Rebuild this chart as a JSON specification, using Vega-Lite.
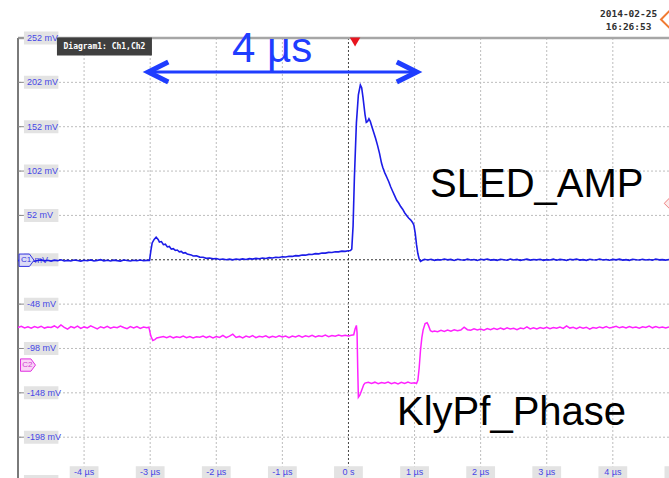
{
  "$schema": "https://vega.github.io/schema/vega-lite/v6.json",
  "width": 651,
  "height": 440,
  "autosize": "none",
  "padding": {"left": 18, "top": 38, "right": 0, "bottom": 0},
  "background": "white",
  "config": {"view": {"stroke": null}, "axis": {"disable": true}, "text": {"font": "Liberation Sans"}},
  "datasets": {
    "blue": [
      {"t":-5,"v":1.3},{"t":-4.95,"v":0.6},{"t":-4.9,"v":1.8},{"t":-4.85,"v":0.9},{"t":-4.8,"v":1.5},{"t":-4.75,"v":0.4},{"t":-4.7,"v":1.2},{"t":-4.65,"v":1.9},{"t":-4.6,"v":0.8},{"t":-4.55,"v":1.4},{"t":-4.5,"v":0.5},{"t":-4.45,"v":1.6},{"t":-4.4,"v":1.0},{"t":-4.35,"v":2.0},{"t":-4.3,"v":0.7},{"t":-4.25,"v":1.3},{"t":-4.2,"v":0.6},{"t":-4.15,"v":1.7},{"t":-4.1,"v":1.1},{"t":-4.05,"v":0.5},{"t":-4,"v":1.5},{"t":-3.95,"v":0.9},{"t":-3.9,"v":1.8},{"t":-3.85,"v":0.6},{"t":-3.8,"v":1.3},{"t":-3.75,"v":2.1},{"t":-3.7,"v":0.8},{"t":-3.65,"v":1.4},{"t":-3.6,"v":0.7},{"t":-3.55,"v":1.6},{"t":-3.5,"v":1.0},{"t":-3.45,"v":0.5},{"t":-3.4,"v":1.7},{"t":-3.35,"v":1.2},{"t":-3.3,"v":0.6},{"t":-3.25,"v":1.5},{"t":-3.2,"v":0.9},{"t":-3.15,"v":1.8},{"t":-3.1,"v":1.0},{"t":-3.05,"v":1.3},{"t":-3.01,"v":1.2},
      {"t":-2.99,"v":12},{"t":-2.97,"v":21},{"t":-2.94,"v":25},{"t":-2.91,"v":27.5},{"t":-2.88,"v":25},{"t":-2.86,"v":22},{"t":-2.83,"v":22.5},{"t":-2.8,"v":19},{"t":-2.77,"v":19.5},{"t":-2.74,"v":16.5},{"t":-2.71,"v":17},{"t":-2.68,"v":14},{"t":-2.65,"v":14.5},{"t":-2.62,"v":12.5},{"t":-2.59,"v":13},{"t":-2.56,"v":11},{"t":-2.53,"v":11.5},{"t":-2.5,"v":9.5},{"t":-2.47,"v":10},{"t":-2.44,"v":8.5},{"t":-2.41,"v":8},{"t":-2.38,"v":7.5},{"t":-2.35,"v":6.2},{"t":-2.3,"v":6.5},{"t":-2.25,"v":5.0},{"t":-2.2,"v":4.8},{"t":-2.15,"v":3.6},{"t":-2.1,"v":4.0},{"t":-2.05,"v":3.0},{"t":-2.0,"v":3.4},{"t":-1.95,"v":2.4},{"t":-1.9,"v":2.9},{"t":-1.85,"v":2.0},{"t":-1.8,"v":2.7},{"t":-1.75,"v":1.9},{"t":-1.7,"v":2.8},{"t":-1.65,"v":2.2},{"t":-1.6,"v":3.0},{"t":-1.55,"v":2.4},{"t":-1.5,"v":3.3},{"t":-1.45,"v":2.8},{"t":-1.4,"v":3.6},{"t":-1.35,"v":3.1},{"t":-1.3,"v":4.0},{"t":-1.25,"v":3.5},{"t":-1.2,"v":4.4},{"t":-1.15,"v":4.0},{"t":-1.1,"v":4.9},{"t":-1.05,"v":4.5},{"t":-1.0,"v":5.4},{"t":-0.95,"v":5.1},{"t":-0.9,"v":6.0},{"t":-0.85,"v":5.8},{"t":-0.8,"v":6.7},{"t":-0.75,"v":6.4},{"t":-0.7,"v":7.4},{"t":-0.65,"v":7.2},{"t":-0.6,"v":8.1},{"t":-0.55,"v":7.9},{"t":-0.5,"v":8.9},{"t":-0.45,"v":8.7},{"t":-0.4,"v":9.6},{"t":-0.35,"v":9.5},{"t":-0.3,"v":10.3},{"t":-0.25,"v":10.2},{"t":-0.2,"v":11.0},{"t":-0.15,"v":10.9},{"t":-0.1,"v":11.7},{"t":-0.05,"v":11.5},{"t":0,"v":12.2},{"t":0.03,"v":12.5},{"t":0.05,"v":14},
      {"t":0.07,"v":40},{"t":0.09,"v":95},{"t":0.12,"v":156},{"t":0.15,"v":188},{"t":0.18,"v":199},{"t":0.2,"v":196},{"t":0.22,"v":185},{"t":0.25,"v":166},{"t":0.27,"v":157},{"t":0.29,"v":158},{"t":0.31,"v":161},{"t":0.33,"v":158},{"t":0.35,"v":153},{"t":0.38,"v":146},{"t":0.41,"v":139},{"t":0.44,"v":131},{"t":0.47,"v":122},{"t":0.5,"v":111},{"t":0.52,"v":106},{"t":0.55,"v":100},{"t":0.58,"v":95},{"t":0.61,"v":90},{"t":0.64,"v":84},{"t":0.67,"v":79},{"t":0.7,"v":74},{"t":0.73,"v":69},{"t":0.76,"v":66},{"t":0.79,"v":62},{"t":0.82,"v":59},{"t":0.85,"v":55},{"t":0.88,"v":52},{"t":0.91,"v":49},{"t":0.94,"v":47},{"t":0.97,"v":44},{"t":0.99,"v":41},{"t":1.01,"v":32},{"t":1.03,"v":19},{"t":1.05,"v":9},{"t":1.07,"v":3},{"t":1.09,"v":0.2},{"t":1.12,"v":1.5},{"t":1.15,"v":2.6},
      {"t":1.2,"v":1.8},{"t":1.25,"v":2.5},{"t":1.3,"v":1.4},{"t":1.35,"v":2.2},{"t":1.4,"v":1.7},{"t":1.45,"v":2.8},{"t":1.5,"v":1.9},{"t":1.55,"v":2.4},{"t":1.6,"v":1.3},{"t":1.65,"v":2.6},{"t":1.7,"v":2.0},{"t":1.75,"v":1.5},{"t":1.8,"v":2.7},{"t":1.85,"v":1.8},{"t":1.9,"v":2.3},{"t":1.95,"v":1.2},{"t":2.0,"v":2.5},{"t":2.05,"v":1.9},{"t":2.1,"v":2.9},{"t":2.15,"v":1.6},{"t":2.2,"v":2.2},{"t":2.25,"v":1.4},{"t":2.3,"v":2.6},{"t":2.35,"v":2.0},{"t":2.4,"v":1.5},{"t":2.45,"v":2.8},{"t":2.5,"v":1.7},{"t":2.55,"v":2.4},{"t":2.6,"v":1.3},{"t":2.65,"v":2.1},{"t":2.7,"v":2.7},{"t":2.75,"v":1.6},{"t":2.8,"v":2.3},{"t":2.85,"v":1.9},{"t":2.9,"v":2.6},{"t":2.95,"v":1.4},{"t":3.0,"v":2.2},{"t":3.05,"v":1.8},{"t":3.1,"v":2.7},{"t":3.15,"v":1.5},{"t":3.2,"v":2.4},{"t":3.25,"v":2.0},{"t":3.3,"v":1.3},{"t":3.35,"v":2.5},{"t":3.4,"v":1.9},{"t":3.45,"v":2.8},{"t":3.5,"v":1.6},{"t":3.55,"v":2.2},{"t":3.6,"v":1.4},{"t":3.65,"v":2.6},{"t":3.7,"v":2.0},{"t":3.75,"v":1.7},{"t":3.8,"v":2.9},{"t":3.85,"v":1.8},{"t":3.9,"v":2.3},{"t":3.95,"v":1.5},{"t":4.0,"v":2.4},{"t":4.05,"v":1.9},{"t":4.1,"v":2.7},{"t":4.15,"v":1.6},{"t":4.2,"v":2.1},{"t":4.25,"v":1.4},{"t":4.3,"v":2.5},{"t":4.35,"v":2.0},{"t":4.4,"v":1.7},{"t":4.45,"v":2.6},{"t":4.5,"v":1.8},{"t":4.55,"v":2.3},{"t":4.6,"v":1.5},{"t":4.65,"v":2.8},{"t":4.7,"v":1.9},{"t":4.75,"v":2.2},{"t":4.8,"v":1.6},{"t":4.85,"v":2.4}
    ],
    "mag": [
      {"t":-5,"v":-74.3},{"t":-4.95,"v":-73.1},{"t":-4.9,"v":-74.9},{"t":-4.85,"v":-73.6},{"t":-4.8,"v":-75.2},{"t":-4.75,"v":-73.4},{"t":-4.7,"v":-74.6},{"t":-4.65,"v":-72.9},{"t":-4.6,"v":-75.0},{"t":-4.55,"v":-73.8},{"t":-4.5,"v":-74.4},{"t":-4.45,"v":-72.6},{"t":-4.4,"v":-74.8},{"t":-4.35,"v":-71.5},{"t":-4.3,"v":-74.1},{"t":-4.25,"v":-76.2},{"t":-4.2,"v":-73.3},{"t":-4.15,"v":-74.7},{"t":-4.1,"v":-72.8},{"t":-4.05,"v":-75.4},{"t":-4,"v":-73.7},{"t":-3.95,"v":-74.9},{"t":-3.9,"v":-72.4},{"t":-3.85,"v":-74.2},{"t":-3.8,"v":-76.0},{"t":-3.75,"v":-73.5},{"t":-3.7,"v":-74.8},{"t":-3.65,"v":-73.0},{"t":-3.6,"v":-75.1},{"t":-3.55,"v":-73.9},{"t":-3.5,"v":-74.5},{"t":-3.45,"v":-72.7},{"t":-3.4,"v":-74.3},{"t":-3.35,"v":-75.6},{"t":-3.3,"v":-73.4},{"t":-3.25,"v":-74.9},{"t":-3.2,"v":-73.2},{"t":-3.15,"v":-75.3},{"t":-3.1,"v":-73.8},{"t":-3.05,"v":-74.5},{"t":-3.02,"v":-74.0},
      {"t":-2.99,"v":-84},{"t":-2.96,"v":-89},{"t":-2.93,"v":-88},{"t":-2.9,"v":-86.2},{"t":-2.85,"v":-85.4},{"t":-2.8,"v":-84.6},{"t":-2.75,"v":-85.8},{"t":-2.7,"v":-84.2},{"t":-2.65,"v":-86.0},{"t":-2.6,"v":-84.9},{"t":-2.55,"v":-85.6},{"t":-2.5,"v":-84.0},{"t":-2.45,"v":-85.9},{"t":-2.4,"v":-84.5},{"t":-2.35,"v":-86.1},{"t":-2.3,"v":-84.8},{"t":-2.25,"v":-85.3},{"t":-2.2,"v":-83.9},{"t":-2.15,"v":-85.7},{"t":-2.1,"v":-84.3},{"t":-2.05,"v":-86.0},{"t":-2.0,"v":-84.6},{"t":-1.95,"v":-85.5},{"t":-1.9,"v":-83.2},{"t":-1.85,"v":-85.8},{"t":-1.8,"v":-84.1},{"t":-1.75,"v":-81.8},{"t":-1.7,"v":-85.6},{"t":-1.65,"v":-84.4},{"t":-1.6,"v":-86.2},{"t":-1.55,"v":-84.0},{"t":-1.5,"v":-85.3},{"t":-1.45,"v":-83.5},{"t":-1.4,"v":-85.9},{"t":-1.35,"v":-84.2},{"t":-1.3,"v":-85.0},{"t":-1.25,"v":-83.8},{"t":-1.2,"v":-85.7},{"t":-1.15,"v":-84.3},{"t":-1.1,"v":-85.4},{"t":-1.05,"v":-83.6},{"t":-1.0,"v":-85.1},{"t":-0.95,"v":-84.0},{"t":-0.9,"v":-85.8},{"t":-0.85,"v":-83.9},{"t":-0.8,"v":-84.9},{"t":-0.75,"v":-83.4},{"t":-0.7,"v":-85.2},{"t":-0.65,"v":-83.8},{"t":-0.6,"v":-84.7},{"t":-0.55,"v":-83.2},{"t":-0.5,"v":-84.9},{"t":-0.45,"v":-83.6},{"t":-0.4,"v":-84.4},{"t":-0.35,"v":-82.9},{"t":-0.3,"v":-84.6},{"t":-0.25,"v":-83.3},{"t":-0.2,"v":-84.2},{"t":-0.15,"v":-82.8},{"t":-0.1,"v":-84.0},{"t":-0.05,"v":-83.1},{"t":0,"v":-83.9},{"t":0.04,"v":-83.0},{"t":0.08,"v":-82.5},
      {"t":0.1,"v":-76},{"t":0.12,"v":-72},{"t":0.13,"v":-80},{"t":0.14,"v":-120},{"t":0.15,"v":-153},{"t":0.17,"v":-151},{"t":0.19,"v":-147},{"t":0.21,"v":-143},{"t":0.23,"v":-139},{"t":0.25,"v":-137},{"t":0.3,"v":-136.2},{"t":0.35,"v":-137.5},{"t":0.4,"v":-136.0},{"t":0.45,"v":-137.8},{"t":0.5,"v":-136.4},{"t":0.55,"v":-137.2},{"t":0.6,"v":-135.9},{"t":0.65,"v":-137.6},{"t":0.7,"v":-136.3},{"t":0.75,"v":-137.9},{"t":0.8,"v":-136.1},{"t":0.85,"v":-137.4},{"t":0.9,"v":-135.8},{"t":0.95,"v":-137.3},{"t":1.0,"v":-136.6},{"t":1.03,"v":-137.4},
      {"t":1.05,"v":-134},{"t":1.07,"v":-120},{"t":1.09,"v":-100},{"t":1.11,"v":-86},{"t":1.13,"v":-77},{"t":1.16,"v":-70},{"t":1.19,"v":-69},{"t":1.21,"v":-72},{"t":1.24,"v":-78},{"t":1.27,"v":-79},{"t":1.3,"v":-78.2},{"t":1.35,"v":-79.0},{"t":1.4,"v":-77.6},{"t":1.45,"v":-78.8},{"t":1.5,"v":-77.3},{"t":1.55,"v":-78.5},{"t":1.6,"v":-76.9},{"t":1.65,"v":-78.1},{"t":1.7,"v":-77.2},{"t":1.75,"v":-74.0},{"t":1.8,"v":-76.8},{"t":1.85,"v":-77.5},{"t":1.9,"v":-75.9},{"t":1.95,"v":-77.1},{"t":2.0,"v":-76.2},{"t":2.05,"v":-77.4},{"t":2.1,"v":-75.6},{"t":2.15,"v":-76.9},{"t":2.2,"v":-75.2},{"t":2.25,"v":-76.6},{"t":2.3,"v":-75.0},{"t":2.35,"v":-76.4},{"t":2.4,"v":-74.8},{"t":2.45,"v":-76.1},{"t":2.5,"v":-75.3},{"t":2.55,"v":-76.7},{"t":2.6,"v":-74.9},{"t":2.65,"v":-75.8},{"t":2.7,"v":-73.6},{"t":2.75,"v":-75.9},{"t":2.8,"v":-74.6},{"t":2.85,"v":-76.0},{"t":2.9,"v":-74.3},{"t":2.95,"v":-75.5},{"t":3.0,"v":-74.1},{"t":3.05,"v":-75.7},{"t":3.1,"v":-74.4},{"t":3.15,"v":-75.2},{"t":3.2,"v":-73.9},{"t":3.25,"v":-75.4},{"t":3.3,"v":-72.6},{"t":3.35,"v":-75.0},{"t":3.4,"v":-74.2},{"t":3.45,"v":-75.6},{"t":3.5,"v":-73.8},{"t":3.55,"v":-75.1},{"t":3.6,"v":-74.0},{"t":3.65,"v":-76.3},{"t":3.7,"v":-74.5},{"t":3.75,"v":-75.2},{"t":3.8,"v":-73.7},{"t":3.85,"v":-74.9},{"t":3.9,"v":-73.4},{"t":3.95,"v":-75.0},{"t":4.0,"v":-74.1},{"t":4.05,"v":-72.9},{"t":4.1,"v":-74.7},{"t":4.15,"v":-73.5},{"t":4.2,"v":-74.8},{"t":4.25,"v":-73.2},{"t":4.3,"v":-74.6},{"t":4.35,"v":-73.9},{"t":4.4,"v":-75.1},{"t":4.45,"v":-73.6},{"t":4.5,"v":-74.4},{"t":4.55,"v":-72.8},{"t":4.6,"v":-74.7},{"t":4.65,"v":-73.3},{"t":4.7,"v":-74.5},{"t":4.75,"v":-73.8},{"t":4.8,"v":-74.9},{"t":4.85,"v":-73.6}
    ],
    "xticks": [
      {"t":-4,"label":"-4 µs"},{"t":-3,"label":"-3 µs"},{"t":-2,"label":"-2 µs"},{"t":-1,"label":"-1 µs"},{"t":0,"label":"0 s"},{"t":1,"label":"1 µs"},{"t":2,"label":"2 µs"},{"t":3,"label":"3 µs"},{"t":4,"label":"4 µs"},{"t":5,"label":"5 µs"}
    ],
    "yticks": [
      {"v":252,"label":"252 mV"},{"v":202,"label":"202 mV"},{"v":152,"label":"152 mV"},{"v":102,"label":"102 mV"},{"v":52,"label":"52 mV"},{"v":2,"label":"2 mV"},{"v":-48,"label":"-48 mV"},{"v":-98,"label":"-98 mV"},{"v":-148,"label":"-148 mV"},{"v":-198,"label":"-198 mV"},{"v":-248,"label":"-248 mV"}
    ]
  },
  "layer": [
    {
      "data": {"name": "xticks"},
      "transform": [{"filter": "datum.t < 5"}],
      "mark": {"type": "rule", "strokeWidth": 1, "strokeDash": [2, 2]},
      "encoding": {
        "x": {"field": "t", "type": "quantitative", "scale": {"domain": [-5, 4.85], "nice": false, "zero": false}, "axis": null},
        "color": {"condition": {"test": "datum.t === 0", "value": "#444444"}, "value": "#bdbdbd"}
      }
    },
    {
      "data": {"name": "yticks"},
      "transform": [{"filter": "datum.v < 252 && datum.v > -244"}],
      "mark": {"type": "rule", "strokeWidth": 1, "strokeDash": [2, 2]},
      "encoding": {
        "y": {"field": "v", "type": "quantitative", "scale": {"domain": [-244, 252], "nice": false, "zero": false}, "axis": null},
        "color": {"condition": {"test": "datum.v === 2", "value": "#333333"}, "value": "#bdbdbd"}
      }
    },
    {
      "data": {"values": [{"v": 252}]},
      "mark": {"type": "rule", "strokeWidth": 2.5, "color": "#a6a6a6"},
      "encoding": {
        "y": {"field": "v", "type": "quantitative", "scale": {"domain": [-244, 252], "nice": false, "zero": false}, "axis": null}
      }
    },
    {
      "data": {"values": [{"t": -5}]},
      "mark": {"type": "rule", "strokeWidth": 2, "color": "#7a7a7a"},
      "encoding": {
        "x": {"field": "t", "type": "quantitative", "scale": {"domain": [-5, 4.85], "nice": false, "zero": false}, "axis": null}
      }
    },
    {
      "data": {"name": "yticks"},
      "mark": {"type": "point", "shape": "M0,-1H5.3V1H0Z", "filled": true, "color": "#e3e3e3", "opacity": 1, "size": 169, "strokeWidth": 0},
      "encoding": {
        "x": {"datum": -4.91, "type": "quantitative", "scale": {"domain": [-5, 4.85], "nice": false, "zero": false}, "axis": null},
        "y": {"field": "v", "type": "quantitative", "scale": {"domain": [-244, 252], "nice": false, "zero": false}, "axis": null},
        "yOffset": {"condition": [{"test": "datum.v === 252", "value": 6}, {"test": "datum.v === -248", "value": -6}], "value": 0}
      }
    },
    {
      "data": {"name": "yticks"},
      "mark": {"type": "rule", "strokeWidth": 1, "color": "#8a8a8a"},
      "encoding": {
        "x": {"datum": -5, "type": "quantitative", "scale": {"domain": [-5, 4.85], "nice": false, "zero": false}, "axis": null},
        "x2": {"datum": -4.915},
        "y": {"field": "v", "type": "quantitative", "scale": {"domain": [-244, 252], "nice": false, "zero": false}, "axis": null},
        "yOffset": {"condition": [{"test": "datum.v === 252", "value": 6}, {"test": "datum.v === -248", "value": -6}], "value": 0}
      }
    },
    {
      "data": {"name": "yticks"},
      "mark": {"type": "text", "align": "left", "baseline": "middle", "fontSize": 9, "color": "#4646e6"},
      "encoding": {
        "x": {"datum": -4.865, "type": "quantitative", "scale": {"domain": [-5, 4.85], "nice": false, "zero": false}, "axis": null},
        "y": {"field": "v", "type": "quantitative", "scale": {"domain": [-244, 252], "nice": false, "zero": false}, "axis": null},
        "yOffset": {"condition": [{"test": "datum.v === 252", "value": 6}, {"test": "datum.v === -248", "value": -6}], "value": 0},
        "text": {"field": "label"}
      }
    },
    {
      "data": {"name": "xticks"},
      "mark": {"type": "point", "shape": "M-2.4,-1H2.4V1H-2.4Z", "filled": true, "color": "#e3e3e3", "opacity": 1, "size": 144, "strokeWidth": 0},
      "encoding": {
        "x": {"field": "t", "type": "quantitative", "scale": {"domain": [-5, 4.85], "nice": false, "zero": false}, "axis": null},
        "y": {"datum": -237.5, "type": "quantitative", "scale": {"domain": [-244, 252], "nice": false, "zero": false}, "axis": null}
      }
    },
    {
      "data": {"name": "xticks"},
      "mark": {"type": "text", "align": "center", "baseline": "middle", "fontSize": 9, "color": "#4646e6"},
      "encoding": {
        "x": {"field": "t", "type": "quantitative", "scale": {"domain": [-5, 4.85], "nice": false, "zero": false}, "axis": null},
        "y": {"datum": -237.5, "type": "quantitative", "scale": {"domain": [-244, 252], "nice": false, "zero": false}, "axis": null},
        "text": {"field": "label"}
      }
    },
    {
      "data": {"name": "mag"},
      "mark": {"type": "line", "color": "#ff22ff", "strokeWidth": 1.5},
      "encoding": {
        "x": {"field": "t", "type": "quantitative", "scale": {"domain": [-5, 4.85], "nice": false, "zero": false}, "axis": null},
        "y": {"field": "v", "type": "quantitative", "scale": {"domain": [-244, 252], "nice": false, "zero": false}, "axis": null}
      }
    },
    {
      "data": {"name": "blue"},
      "mark": {"type": "line", "color": "#1c1ce8", "strokeWidth": 1.6},
      "encoding": {
        "x": {"field": "t", "type": "quantitative", "scale": {"domain": [-5, 4.85], "nice": false, "zero": false}, "axis": null},
        "y": {"field": "v", "type": "quantitative", "scale": {"domain": [-244, 252], "nice": false, "zero": false}, "axis": null}
      }
    },
    {
      "data": {"values": [{"t": -4.871, "v": 1.5, "label": "C1", "ch": "C1"}, {"t": -4.849, "v": -116.7, "label": "C2", "ch": "C2"}]},
      "mark": {"type": "point", "shape": "M-1.15,-0.95H0.45L1.15,0L0.45,0.95H-1.15Z", "filled": true, "opacity": 1, "size": 169, "strokeWidth": 1},
      "encoding": {
        "x": {"field": "t", "type": "quantitative", "scale": {"domain": [-5, 4.85], "nice": false, "zero": false}, "axis": null},
        "y": {"field": "v", "type": "quantitative", "scale": {"domain": [-244, 252], "nice": false, "zero": false}, "axis": null},
        "fill": {"field": "ch", "type": "nominal", "scale": {"domain": ["C1", "C2"], "range": ["#dcdcf6", "#fad4f6"]}, "legend": null},
        "stroke": {"field": "ch", "type": "nominal", "scale": {"domain": ["C1", "C2"], "range": ["#3434e0", "#e030e0"]}, "legend": null}
      }
    },
    {
      "data": {"values": [{"t": -4.877, "v": 1.5, "label": "C1", "ch": "C1"}, {"t": -4.857, "v": -116.7, "label": "C2", "ch": "C2"}]},
      "mark": {"type": "text", "align": "center", "baseline": "middle", "fontSize": 8},
      "encoding": {
        "x": {"field": "t", "type": "quantitative", "scale": {"domain": [-5, 4.85], "nice": false, "zero": false}, "axis": null},
        "y": {"field": "v", "type": "quantitative", "scale": {"domain": [-244, 252], "nice": false, "zero": false}, "axis": null},
        "text": {"field": "label"},
        "color": {"field": "ch", "type": "nominal", "scale": {"domain": ["C1", "C2"], "range": ["#3434e0", "#d040d0"]}, "legend": null}
      }
    },
    {
      "data": {"values": [{"t": -3.692, "v": 242.4}]},
      "mark": {"type": "point", "shape": "M-1,-0.19H1V0.19H-1Z", "filled": true, "color": "#3f3f3f", "opacity": 1, "size": 9025, "strokeWidth": 0},
      "encoding": {
        "x": {"field": "t", "type": "quantitative", "scale": {"domain": [-5, 4.85], "nice": false, "zero": false}, "axis": null},
        "y": {"field": "v", "type": "quantitative", "scale": {"domain": [-244, 252], "nice": false, "zero": false}, "axis": null}
      }
    },
    {
      "data": {"values": [{"t": -3.692, "v": 242.4, "label": "Diagram1: Ch1,Ch2"}]},
      "mark": {"type": "text", "align": "center", "baseline": "middle", "fontSize": 8, "font": "DejaVu Sans Mono", "fontWeight": "bold", "color": "#ffffff"},
      "encoding": {
        "x": {"field": "t", "type": "quantitative", "scale": {"domain": [-5, 4.85], "nice": false, "zero": false}, "axis": null},
        "y": {"field": "v", "type": "quantitative", "scale": {"domain": [-244, 252], "nice": false, "zero": false}, "axis": null},
        "text": {"field": "label"}
      }
    },
    {
      "data": {"values": [{"t": 0.1, "v": 247.5}]},
      "mark": {"type": "point", "shape": "triangle-down", "filled": true, "color": "#e8141e", "opacity": 1, "size": 110},
      "encoding": {
        "x": {"field": "t", "type": "quantitative", "scale": {"domain": [-5, 4.85], "nice": false, "zero": false}, "axis": null},
        "y": {"field": "v", "type": "quantitative", "scale": {"domain": [-244, 252], "nice": false, "zero": false}, "axis": null}
      }
    },
    {
      "data": {"values": [{"t": 4.87, "v": 65.6}]},
      "mark": {"type": "point", "shape": "diamond", "filled": true, "fill": "#fdeaea", "stroke": "#ee8080", "strokeWidth": 1, "opacity": 1, "size": 150},
      "encoding": {
        "x": {"field": "t", "type": "quantitative", "scale": {"domain": [-5, 4.85], "nice": false, "zero": false}, "axis": null},
        "y": {"field": "v", "type": "quantitative", "scale": {"domain": [-244, 252], "nice": false, "zero": false}, "axis": null}
      }
    },
    {
      "data": {"values": [{"t": 4.85, "v": 272.9}]},
      "mark": {"type": "point", "shape": "diamond", "filled": true, "fill": "#ffffff", "stroke": "#f07a32", "strokeWidth": 2, "opacity": 1, "size": 256},
      "encoding": {
        "x": {"field": "t", "type": "quantitative", "scale": {"domain": [-5, 4.85], "nice": false, "zero": false}, "axis": null},
        "y": {"field": "v", "type": "quantitative", "scale": {"domain": [-244, 252], "nice": false, "zero": false}, "axis": null}
      }
    },
    {
      "data": {"values": [{"t": 4.239, "v": 279, "label": "2014-02-25"}, {"t": 4.239, "v": 264.4, "label": "16:26:53"}]},
      "mark": {"type": "text", "align": "center", "baseline": "middle", "fontSize": 9.5, "font": "DejaVu Sans Mono", "fontWeight": "bold", "color": "#303030"},
      "encoding": {
        "x": {"field": "t", "type": "quantitative", "scale": {"domain": [-5, 4.85], "nice": false, "zero": false}, "axis": null},
        "y": {"field": "v", "type": "quantitative", "scale": {"domain": [-244, 252], "nice": false, "zero": false}, "axis": null},
        "text": {"field": "label"}
      }
    },
    {
      "data": {"values": [{"t": -3.0, "t2": 1.0, "v": 213.6}]},
      "mark": {"type": "rule", "strokeWidth": 3, "color": "#1f3dff"},
      "encoding": {
        "x": {"field": "t", "type": "quantitative", "scale": {"domain": [-5, 4.85], "nice": false, "zero": false}, "axis": null},
        "x2": {"field": "t2"},
        "y": {"field": "v", "type": "quantitative", "scale": {"domain": [-244, 252], "nice": false, "zero": false}, "axis": null}
      }
    },
    {
      "data": {"values": [{"t": -3.029, "v": 213.6}]},
      "mark": {"type": "point", "shape": "M1.82,-0.91L0,0L1.82,0.91", "filled": false, "color": "#1f3dff", "opacity": 1, "size": 484, "strokeWidth": 5, "strokeJoin": "miter"},
      "encoding": {
        "x": {"field": "t", "type": "quantitative", "scale": {"domain": [-5, 4.85], "nice": false, "zero": false}, "axis": null},
        "y": {"field": "v", "type": "quantitative", "scale": {"domain": [-244, 252], "nice": false, "zero": false}, "axis": null}
      }
    },
    {
      "data": {"values": [{"t": 1.034, "v": 213.6}]},
      "mark": {"type": "point", "shape": "M-1.82,-0.91L0,0L-1.82,0.91", "filled": false, "color": "#1f3dff", "opacity": 1, "size": 484, "strokeWidth": 5, "strokeJoin": "miter"},
      "encoding": {
        "x": {"field": "t", "type": "quantitative", "scale": {"domain": [-5, 4.85], "nice": false, "zero": false}, "axis": null},
        "y": {"field": "v", "type": "quantitative", "scale": {"domain": [-244, 252], "nice": false, "zero": false}, "axis": null}
      }
    },
    {
      "data": {"values": [{"t": -1.156, "v": 225.3, "label": "4 µs"}]},
      "mark": {"type": "text", "align": "center", "baseline": "alphabetic", "fontSize": 42, "color": "#1f3dff"},
      "encoding": {
        "x": {"field": "t", "type": "quantitative", "scale": {"domain": [-5, 4.85], "nice": false, "zero": false}, "axis": null},
        "y": {"field": "v", "type": "quantitative", "scale": {"domain": [-244, 252], "nice": false, "zero": false}, "axis": null},
        "text": {"field": "label"}
      }
    },
    {
      "data": {"values": [{"t": 1.235, "v": 72.8, "label": "SLED_AMP"}, {"t": 0.735, "v": -184.3, "label": "KlyPf_Phase"}]},
      "mark": {"type": "text", "align": "left", "baseline": "alphabetic", "fontSize": 40, "color": "#000000"},
      "encoding": {
        "x": {"field": "t", "type": "quantitative", "scale": {"domain": [-5, 4.85], "nice": false, "zero": false}, "axis": null},
        "y": {"field": "v", "type": "quantitative", "scale": {"domain": [-244, 252], "nice": false, "zero": false}, "axis": null},
        "text": {"field": "label"}
      }
    }
  ]
}
